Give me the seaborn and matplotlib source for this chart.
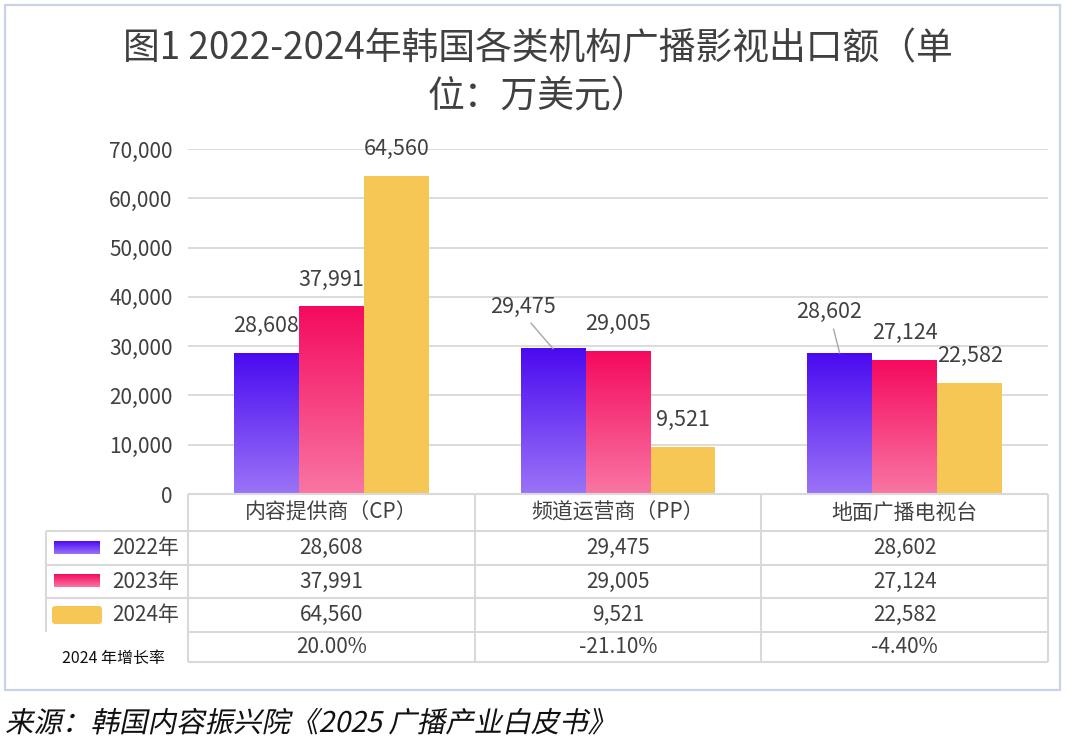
import numpy as np
import pandas as pd
import matplotlib
matplotlib.use('Agg')
import matplotlib.pyplot as plt
import seaborn as sns
from matplotlib.colors import LinearSegmentedColormap
from matplotlib.patches import Rectangle, FancyBboxPatch, PathPatch
from matplotlib.textpath import TextPath
from matplotlib.font_manager import FontProperties
from matplotlib.transforms import Affine2D

# 数据
categories = ['内容提供商（CP）', '频道运营商（PP）', '地面广播电视台']
years = ['2022年', '2023年', '2024年']
v2022 = [28608, 29475, 28602]
v2023 = [37991, 29005, 27124]
v2024 = [64560, 9521, 22582]
growth_2024 = ['20.00%', '-21.10%', '-4.40%']
yticks = [0, 10000, 20000, 30000, 40000, 50000, 60000, 70000]

title = '图1 2022-2024年韩国各类机构广播影视出口额（单\n位：万美元）'
growth_label = '2024 年增长率'
source = '来源：韩国内容振兴院《2025 广播产业白皮书》'

# 颜色
top_colors = ['#4a0af0', '#f50a5e', '#f7c755']
bottom_colors = ['#9b74f7', '#f976a3', '#f7c755']
text_color = '#404040'
grid_color = '#d9d9d9'

values = [v2022, v2023, v2024]
df = pd.DataFrame({
    '类别': categories * 3,
    '年份': np.repeat(years, len(categories)),
    '出口额': v2022 + v2023 + v2024,
})

sns.set_theme(style='white')
plt.rcParams['font.family'] = ['Noto Sans CJK SC', 'DejaVu Sans']

W, H = 1080, 756
fig = plt.figure(figsize=(W / 100, H / 100), dpi=100)
fig.patch.set_facecolor('white')

# 主图区域 (像素布局)
x_left, x_right, y_zero, y_top = 188, 1048, 494, 149
ax = fig.add_axes([x_left / W, 1 - y_zero / H, (x_right - x_left) / W, (y_zero - y_top) / H])

sns.barplot(data=df, x='类别', y='出口额', hue='年份', hue_order=years,
            palette=top_colors, saturation=1, width=0.68, legend=False,
            linewidth=0, ax=ax)

grad = np.linspace(0, 1, 256).reshape(-1, 1)

# 渐变填充
for i, cont in enumerate(ax.containers):
    cmap = LinearSegmentedColormap.from_list('g%d' % i, [bottom_colors[i], top_colors[i]])
    for bar in cont:
        x0 = bar.get_x()
        w = bar.get_width()
        h = bar.get_height()
        if top_colors[i] != bottom_colors[i]:
            ax.imshow(grad, cmap=cmap, extent=[x0, x0 + w, 0, h], origin='lower',
                      aspect='auto', zorder=bar.get_zorder() + 0.1)

ax.set_xlim(-0.5, len(categories) - 0.5)
ax.set_ylim(0, 70000)
ax.set_yticks(yticks)
ax.set_yticklabels([f'{v:,}' for v in yticks])
ax.set_xticks([])
ax.set_xlabel('')
ax.set_ylabel('')
ax.tick_params(axis='y', length=0, labelsize=15, colors=text_color, pad=11)
ax.yaxis.grid(True, color=grid_color, lw=1.3)
ax.set_axisbelow(True)
for s in ax.spines.values():
    s.set_visible(False)
ax.patch.set_alpha(0)

# 数据标签
label_offsets = {(0, 1): (-30, 42), (0, 2): (-11, 41)}
leader = {(0, 1), (0, 2)}
for i, cont in enumerate(ax.containers):
    for j, bar in enumerate(cont):
        x = bar.get_x() + bar.get_width() / 2
        top = bar.get_height()
        dx, dy = label_offsets.get((i, j), (0, 27))
        kw = {}
        if (i, j) in leader:
            kw['arrowprops'] = dict(arrowstyle='-', color='#a6a6a6', lw=1,
                                    relpos=(0.55, 0.0), shrinkA=2, shrinkB=0)
        ax.annotate(f'{values[i][j]:,}', xy=(x, top), xytext=(dx, dy),
                    textcoords='offset pixels', ha='center', va='center',
                    fontsize=15.5, color=text_color, annotation_clip=False, **kw)

# 覆盖层：表格、标题、来源
ov = fig.add_axes([0, 0, 1, 1])
ov.set_xlim(0, W)
ov.set_ylim(H, 0)
ov.set_axis_off()

# 外框
ov.add_patch(Rectangle((5, 5), 1055, 685, fill=False, edgecolor='#c7d4e8', lw=1.6))

# 标题
ov.text(538, 73, title, ha='center', va='center', fontsize=26.5, color=text_color,
        linespacing=1.3, multialignment='center')

# 数据表
rows = [494, 531, 565, 598, 632, 662]
col_w = (x_right - x_left) / len(categories)
cols = [x_left + k * col_w for k in range(len(categories) + 1)]
leg_left = 46
line_kw = dict(color=grid_color, lw=1.5, solid_capstyle='butt')
for r in rows:
    xs = leg_left if r in rows[1:4] else x_left
    ov.plot([xs, x_right], [r, r], **line_kw)
for c in cols:
    ov.plot([c, c], [rows[0], rows[-1]], **line_kw)
ov.plot([leg_left, leg_left], [rows[1], rows[4]], **line_kw)

centers = [(cols[k] + cols[k + 1]) / 2 for k in range(len(categories))]
row_mid = [(rows[k] + rows[k + 1]) / 2 for k in range(len(rows) - 1)]
for k, cat in enumerate(categories):
    ov.text(centers[k], row_mid[0], cat, ha='center', va='center', fontsize=15, color=text_color)
    for i in range(len(years)):
        ov.text(centers[k], row_mid[i + 1], f'{values[i][k]:,}', ha='center', va='center',
                fontsize=15, color=text_color)
    ov.text(centers[k], row_mid[4], growth_2024[k], ha='center', va='center',
            fontsize=15, color=text_color)

# 图例色块
for i, yr in enumerate(years):
    ym = row_mid[i + 1]
    if top_colors[i] != bottom_colors[i]:
        cmap = LinearSegmentedColormap.from_list('s%d' % i, [bottom_colors[i], top_colors[i]])
        ov.imshow(grad, cmap=cmap, extent=[54, 100, ym + 6, ym - 7], origin='lower',
                  aspect='auto', zorder=3)
    else:
        ov.add_patch(FancyBboxPatch((54, ym - 7), 46, 14, boxstyle='round,pad=2,rounding_size=3',
                                    facecolor=top_colors[i], edgecolor='none', zorder=3))
    ov.text(112, ym, yr, ha='left', va='center', fontsize=15, color=text_color)

ov.text(62, 658, growth_label, ha='left', va='center', fontsize=11.5, color='#111111')
ov.set_xlim(0, W)
ov.set_ylim(H, 0)

# 来源（斜体效果）
tp = TextPath((0, 0), source, size=28.5, prop=FontProperties(family='Noto Sans CJK SC'))
tr = Affine2D().skew_deg(12, 0).scale(1, -1).translate(5, 732) + ov.transData
ov.add_patch(PathPatch(tp, transform=tr, facecolor='#111111', edgecolor='none'))

fig.savefig('out.png', dpi=100, facecolor='white')
